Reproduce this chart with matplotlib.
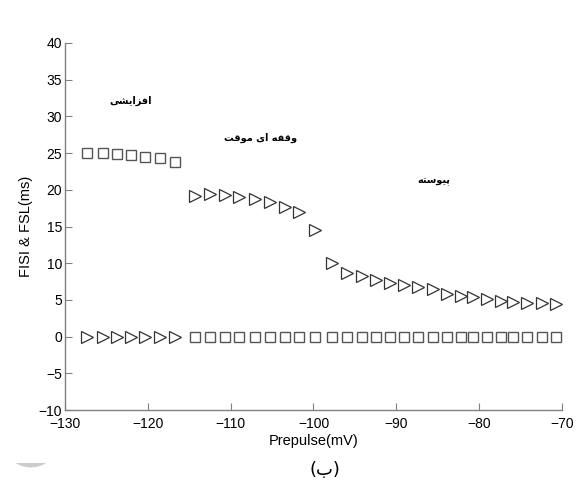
import matplotlib
matplotlib.use("Agg")
import matplotlib.pyplot as plt
from matplotlib.patches import Circle, Rectangle

# ---- data ---------------------------------------------------------------
# prepulse voltages (mV)
v_tonic_head = [-127.3, -125.4, -123.7, -122.0, -120.3, -118.5, -116.7]
v_pause = [-114.3, -112.5, -110.7, -109.0, -107.1, -105.3, -103.5, -101.7, -99.8]
v_tail = [-97.8, -96.0, -94.2, -92.5, -90.8, -89.1, -87.4, -85.6, -83.9,
          -82.2, -80.7, -79.0, -77.4, -75.9, -74.2, -72.4, -70.7]

# first-spike latency (FSL, squares) in the accelerating regime
fsl_head = [25.05, 24.97, 24.84, 24.70, 24.51, 24.29, 23.75]
# first inter-spike interval (FISI, triangles) in the pause / tonic regimes
fisi_pause = [19.16, 19.43, 19.29, 19.06, 18.75, 18.38, 17.70, 16.93, 14.52]
fisi_tail = [9.99, 8.71, 8.26, 7.71, 7.34, 7.03, 6.72, 6.42, 5.80,
             5.53, 5.35, 5.08, 4.89, 4.75, 4.62, 4.54, 4.44]
# baseline series drawn on the zero line
zero_head = [0.0] * len(v_tonic_head)
zero_rest = [0.0] * (len(v_pause) + len(v_tail))

x_ticks = [-130, -120, -110, -100, -90, -80, -70]
y_ticks = [-10, -5, 0, 5, 10, 15, 20, 25, 30, 35, 40]

regime_labels = ["افزایشی", "وقفه ای موقت", "پیوسته"]
regime_pos = [(-122.1, 32.1), (-106.4, 27.1), (-85.5, 21.2)]

# ---- minimal Arabic-script shaping for the Persian labels -----------------
FORMS = {  # isolated, final, initial, medial
    "ا": ("\uFE8D", "\uFE8E", None, None),
    "ب": ("\uFE8F", "\uFE90", "\uFE91", "\uFE92"),
    "پ": ("\uFB56", "\uFB57", "\uFB58", "\uFB59"),
    "ت": ("\uFE95", "\uFE96", "\uFE97", "\uFE98"),
    "ز": ("\uFEAF", "\uFEB0", None, None),
    "س": ("\uFEB1", "\uFEB2", "\uFEB3", "\uFEB4"),
    "ش": ("\uFEB5", "\uFEB6", "\uFEB7", "\uFEB8"),
    "ف": ("\uFED1", "\uFED2", "\uFED3", "\uFED4"),
    "ق": ("\uFED5", "\uFED6", "\uFED7", "\uFED8"),
    "م": ("\uFEE1", "\uFEE2", "\uFEE3", "\uFEE4"),
    "ه": ("\uFEE9", "\uFEEA", "\uFEEB", "\uFEEC"),
    "و": ("\uFEED", "\uFEEE", None, None),
    "ی": ("\uFEEF", "\uFEF0", "\uFEF3", "\uFEF4"),
}


def shape(text):
    out = []
    for i, ch in enumerate(text):
        if ch not in FORMS:
            out.append(ch)
            continue
        prev = text[i - 1] if i > 0 else None
        nxt = text[i + 1] if i + 1 < len(text) else None
        join_prev = prev in FORMS and FORMS[prev][2] is not None
        join_next = FORMS[ch][2] is not None and nxt in FORMS
        iso, fin, ini, med = FORMS[ch]
        if join_prev and join_next:
            out.append(med)
        elif join_prev:
            out.append(fin)
        elif join_next:
            out.append(ini)
        else:
            out.append(iso)
    return "".join(reversed(out))


# ---- figure ---------------------------------------------------------------
plt.rcParams["font.family"] = ["Liberation Sans", "DejaVu Sans"]
fig = plt.figure(figsize=(5.78, 4.96), dpi=100)
ax = fig.add_axes([65 / 578, 86 / 496, 497 / 578, 367 / 496])

sq = dict(marker="s", markersize=7, markerfacecolor="white",
          markeredgecolor="#555555", markeredgewidth=1.0, linestyle="none")
tri = dict(marker=">", markersize=8, markerfacecolor="white",
           markeredgecolor="#333333", markeredgewidth=0.9, linestyle="none")

ax.plot(v_tonic_head, fsl_head, **sq)
ax.plot(v_pause, fisi_pause, **tri)
ax.plot(v_tail, fisi_tail, **tri)
ax.plot(v_tonic_head, zero_head, **tri)
ax.plot(v_pause + v_tail, zero_rest, **sq)

for label, (x, y) in zip(regime_labels, regime_pos):
    ax.text(x, y, shape(label), family="DejaVu Sans", fontweight="bold",
            fontsize=7, ha="center", va="center")

ax.set_xlim(-130, -70)
ax.set_ylim(-10, 40)
ax.set_xticks(x_ticks)
ax.set_yticks(y_ticks)
for side in ("top", "right"):
    ax.spines[side].set_visible(False)
for side in ("left", "bottom"):
    ax.spines[side].set_color("#808080")
    ax.spines[side].set_linewidth(1.0)
ax.tick_params(direction="in", length=5, color="#808080", labelsize=10,
               labelcolor="black")
ax.tick_params(axis="x", pad=5)
ax.tick_params(axis="y", pad=2)
ax.set_xlabel("Prepulse(mV)", fontsize=10.5, labelpad=2)
ax.set_ylabel("FISI & FSL(ms)", fontsize=10.5, labelpad=4)

# figure caption
fig.text(325 / 578, 1 - 470 / 496, "(" + shape("ب") + ")",
         family="DejaVu Sans", fontsize=13, ha="center", va="center")

# faint grey page mark in the lower-left corner
clip = Rectangle((0, 0), 80 / 578, (496 - 463) / 496,
                 transform=fig.transFigure, visible=False)
fig.add_artist(clip)
mark = Circle((31 / 578, 1 - 445.6 / 496), 25.4 / 578,
              transform=fig.transFigure, color="#cccccc", linewidth=0)
fig.add_artist(mark)
mark.set_clip_path(clip)

fig.savefig("out.png", dpi=100, facecolor="white")
